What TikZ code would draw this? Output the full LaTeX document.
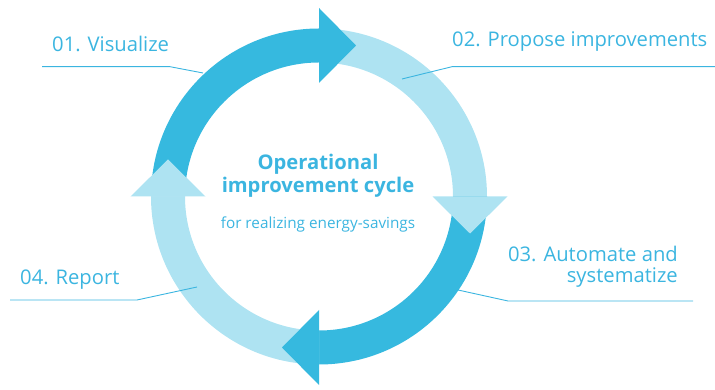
\documentclass[tikz,border=0pt]{standalone}
\usepackage{fontspec}
\setmainfont{Open Sans}
\usetikzlibrary{calc}
\definecolor{darkb}{HTML}{36B9DF}
\definecolor{lightb}{HTML}{AEE3F2}
\definecolor{txtb}{HTML}{3BB5E0}
\begin{document}
\begin{tikzpicture}[x=1pt,y=1pt,
  lbl/.style={inner sep=0pt,text=txtb,font=\fontsize{20.2}{24}\selectfont},
  lead/.style={draw=txtb,line width=0.9pt},
  darkband/.style={fill=darkb},
  lightband/.style={fill=lightb}]
\useasboundingbox (0,0) rectangle (715,390);
\coordinate (C) at (319,193.5);
\def\ro{168}\def\ri{134}
% bands
\fill[darkband] ($(C)+(180:\ro)$) arc[start angle=180,end angle=90,radius=\ro] -- ($(C)+(90:\ri)$) arc[start angle=90,end angle=180,radius=\ri] -- cycle;
\fill[lightband] ($(C)+(90:\ro)$) arc[start angle=90,end angle=0,radius=\ro] -- ($(C)+(0:\ri)$) arc[start angle=0,end angle=90,radius=\ri] -- cycle;
\fill[darkband] ($(C)+(0:\ro)$) arc[start angle=0,end angle=-90,radius=\ro] -- ($(C)+(-90:\ri)$) arc[start angle=-90,end angle=0,radius=\ri] -- cycle;
\fill[lightband] ($(C)+(-90:\ro)$) arc[start angle=-90,end angle=-180,radius=\ro] -- ($(C)+(-180:\ri)$) arc[start angle=-180,end angle=-90,radius=\ri] -- cycle;
% heads
\fill[darkband] (319,307) -- (319,382) -- (356,344.5) -- cycle;
\fill[lightband] (432.5,193.5) -- (507.5,193.5) -- (470,156.5) -- cycle;
\fill[darkband] (319,80) -- (319,5) -- (282,42.5) -- cycle;
\fill[lightband] (205.5,193.5) -- (130.5,193.5) -- (168,230.5) -- cycle;
% centre text
\node[inner sep=0pt,anchor=base,text=txtb,font=\fontsize{20.2}{24}\selectfont\bfseries] (t1) at (318,220) {Operational};
\node[inner sep=0pt,anchor=base,text=txtb,font=\fontsize{20.2}{24}\selectfont\bfseries] (t2) at (318,197) {improvement cycle};
\node[inner sep=0pt,anchor=base,text=txtb,font=\fontsize{15.3}{18}\selectfont] (t3) at (318,161) {for realizing energy-savings};
% labels
\node[lbl,anchor=base west] (l1) at (52,338) {01. Visualize};
\node[lbl,anchor=base west] (l2) at (452,343) {02. Propose improvements};
\node[lbl,anchor=base east] (l3a) at (678,128) {03. Automate and};
\node[lbl,anchor=base east] (l3b) at (678,107) {systematize};
\node[lbl,anchor=base west] (l4) at (20,105) {04. Report};
% leader lines
\coordinate (a1) at (42,323.3); \coordinate (b1) at (170,323.3); \coordinate (c1) at (203,317);
\coordinate (a2) at (715,323.3); \coordinate (b2) at (452,323.3); \coordinate (c2) at (402,311);
\coordinate (a3) at (693,89); \coordinate (b3) at (508,89); \coordinate (c3) at (458,100);
\coordinate (a4) at (10,90); \coordinate (b4) at (137,90); \coordinate (c4) at (197,103);
\draw[lead] (a1) -- (b1) -- (c1);
\draw[lead] (a2) -- (b2) -- (c2);
\draw[lead] (a3) -- (b3) -- (c3);
\draw[lead] (a4) -- (b4) -- (c4);
\end{tikzpicture}
\end{document}
